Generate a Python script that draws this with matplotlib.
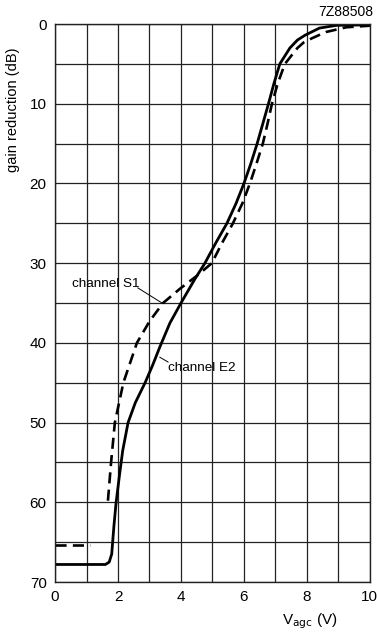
import numpy as np
import matplotlib
matplotlib.use("Agg")
import matplotlib.pyplot as plt
from matplotlib.ticker import MultipleLocator

plt.rcParams['font.family'] = ['Liberation Sans', 'DejaVu Sans']
plt.rcParams['lines.scale_dashes'] = False

# channel E2 (solid): V_agc (V), gain reduction (dB)
e2_v = [0.0, 1.6, 1.72, 1.8, 1.87, 1.94, 2.05, 2.15, 2.32, 2.55, 2.86, 3.1, 3.33,
        3.65, 4.0, 4.44, 4.76, 5.1, 5.46, 5.75, 6.0, 6.22, 6.42, 6.6, 6.78,
        6.95, 7.14, 7.3, 7.46, 7.7, 7.94, 8.4, 8.95, 10.0]
e2_db = [67.8, 67.8, 67.5, 66.5, 63.0, 60.0, 56.5, 53.5, 50.0, 47.5, 45.0, 42.8, 40.5,
         37.5, 35.0, 32.0, 30.0, 27.5, 25.0, 22.5, 20.0, 17.5, 15.0, 12.5, 10.0,
         7.5, 5.0, 4.0, 3.0, 2.0, 1.4, 0.5, 0.15, 0.1]

# channel S1 (dashed)
s1_v = [1.68, 1.78, 1.9, 2.17, 2.6, 3.0, 3.43, 3.97, 4.5, 4.98, 5.3, 5.65,
        5.95, 6.19, 6.4, 6.6, 6.75, 6.89, 7.07, 7.3, 7.5, 7.7, 7.9, 8.15, 8.6,
        9.25, 10.0]
s1_db = [59.8, 55.0, 50.0, 45.0, 40.0, 37.3, 35.0, 33.2, 31.6, 30.0, 27.5, 25.0,
         22.5, 20.0, 17.5, 15.0, 12.5, 10.0, 7.5, 5.0, 4.0, 3.0, 2.3, 1.8, 1.0,
         0.4, 0.2]
s1_low_v = [0.0, 1.1]
s1_low_db = [65.4, 65.4]

fig = plt.figure(figsize=(3.77, 6.34), dpi=100)
ax = fig.add_axes([0.146, 0.082, 0.835, 0.880])

ax.plot(e2_v, e2_db, color='black', lw=2.0, solid_joinstyle='round')
ax.plot(s1_v, s1_db, color='black', lw=1.9, dashes=(8, 4.5))
ax.plot(s1_low_v, s1_low_db, color='black', lw=1.9, dashes=(8, 4.5))

ax.set_xlim(0, 10)
ax.set_ylim(70, 0)
ax.xaxis.set_major_locator(MultipleLocator(2))
ax.xaxis.set_minor_locator(MultipleLocator(1))
ax.yaxis.set_major_locator(MultipleLocator(10))
ax.yaxis.set_minor_locator(MultipleLocator(5))
ax.grid(True, which='both', color='#222222', lw=0.9)
ax.tick_params(which='both', length=0, labelsize=11, pad=6)
for s in ax.spines.values():
    s.set_linewidth(1.0)
    s.set_color('#222222')

ax.text(0.54, 32.6, 'channel S1', fontsize=9.7, va='center', ha='left')
ax.plot([2.63, 3.4], [33.1, 35.0], color='black', lw=0.7)
ax.text(3.59, 43.2, 'channel E2', fontsize=9.7, va='center', ha='left')
ax.plot([3.33, 3.59], [41.8, 42.4], color='black', lw=0.7)

ax.set_ylabel('gain reduction (dB)', fontsize=10.5)
ax.yaxis.set_label_coords(-0.11, 0.846)
ax.set_xlabel(r'V$_{\rm agc}$ (V)', fontsize=11)
ax.xaxis.set_label_coords(0.81, -0.052)

fig.text(0.99, 0.981, '7Z88508', fontsize=10, ha='right', va='center')

fig.savefig('out.png', dpi=100)
